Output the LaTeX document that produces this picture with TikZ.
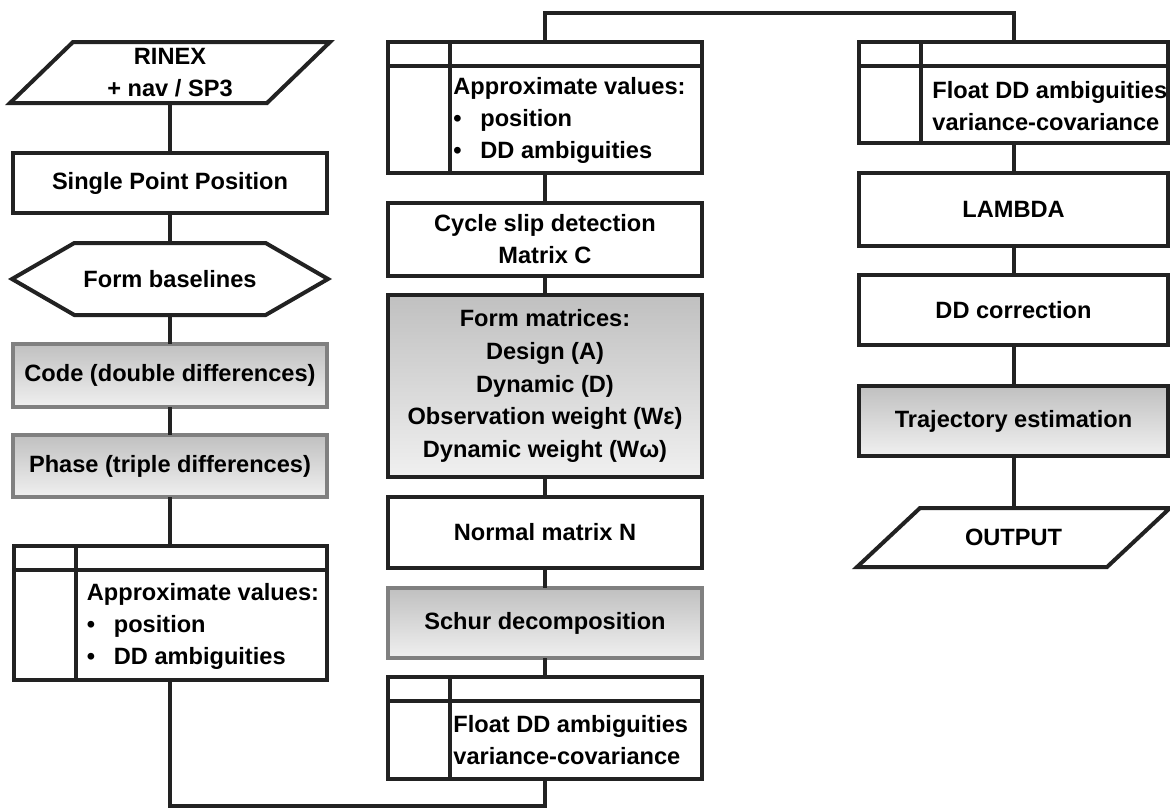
\documentclass[tikz,border=0pt]{standalone}
\usepackage{fontspec}
\setmainfont{Liberation Sans}
\usetikzlibrary{positioning, shapes.symbols}
\definecolor{edgedark}{HTML}{222222}
\definecolor{edgegray}{HTML}{808080}
\definecolor{shadetop}{HTML}{C0C0C0}
\definecolor{shadebot}{HTML}{F0F0F0}

\begin{document}
\begin{tikzpicture}[x=0.5pt, y=-0.5pt,
  box/.style={draw=edgedark, line width=2pt, minimum width=157pt, minimum height=30pt,
    inner sep=2pt, outer sep=0pt, align=center, font=\fontsize{11.8}{16}\selectfont\bfseries},
  shaded/.style={box, top color=shadetop, bottom color=shadebot},
  paleedge/.style={shaded, draw=edgegray},
  io/.style={box, draw=none, append after command={\pgfextra{
    \draw[edgedark, line width=2pt]
      ([xshift=-15.75pt]\tikzlastnode.south west) -- ([xshift=15.75pt]\tikzlastnode.north west)
      -- ([xshift=15.75pt]\tikzlastnode.north east) -- ([xshift=-15.75pt]\tikzlastnode.south east) -- cycle;}}},
  hexbox/.style={box, signal, signal to=west and east, signal pointer angle=60},
  tabbox/.style={box, path picture={
    \draw[edgedark, line width=2pt]
      ([yshift=-12pt]path picture bounding box.north west) -- ([yshift=-12pt]path picture bounding box.north east)
      ([xshift=31pt]path picture bounding box.north west) -- ([xshift=31pt]path picture bounding box.south west);}},
  tabtxt/.style={anchor=west, align=left, inner sep=0pt, font=\fontsize{11.8}{16}\selectfont\bfseries},
  link/.style={draw=edgedark, line width=2pt}
]
\useasboundingbox (0,0) rectangle (1170,810);
\newcommand{\bul}{\makebox[13.5pt][l]{\textbullet}}

% left column
\node[io, minimum width=128.5pt, minimum height=30.5pt] (rinex) at (170,72.5) {RINEX\\+ nav / SP3};
\node[box, below=25pt of rinex] (spp) {Single Point Position};
\node[hexbox, minimum width=158pt, minimum height=36pt, below=15pt of spp] (base) {Form baselines};
\node[paleedge, minimum height=31.5pt, below=14.5pt of base] (code) {Code (double differences)};
\node[paleedge, minimum height=31pt, below=14pt of code] (phase) {Phase (triple differences)};
\node[tabbox, minimum width=156.5pt, minimum height=67pt, below=24.5pt of phase] (apx1) {};
\node[tabtxt] (apx1txt) at ([xshift=36.5pt, yshift=-6.5pt]apx1.west)
  {Approximate values:\\\bul position\\\bul DD ambiguities};

% middle column
\node[tabbox, minimum height=65.5pt] (apx2) at (545,107.5) {};
\node[tabtxt] (apx2txt) at ([xshift=32.5pt, yshift=-6.5pt]apx2.west)
  {Approximate values:\\\bul position\\\bul DD ambiguities};
\node[box, minimum height=36.5pt, below=15pt of apx2] (cyc) {Cycle slip detection\\Matrix C};
\node[shaded, minimum height=91pt, below=9.5pt of cyc, font=\fontsize{11.8}{16.4}\selectfont\bfseries] (form)
  {Form matrices:\\Design (A)\\Dynamic (D)\\Observation weight (Wε)\\Dynamic weight (Wω)};
\node[box, minimum height=35.5pt, below=10pt of form] (norm) {Normal matrix N};
\node[paleedge, minimum height=35pt, below=10pt of norm] (schur) {Schur decomposition};
\node[tabbox, minimum height=51pt, below=9.5pt of schur] (flt1) {};
\node[tabtxt] (flt1txt) at ([xshift=32.5pt, yshift=-6pt]flt1.west)
  {Float DD ambiguities\\variance-covariance};

% right column
\node[tabbox, minimum width=154.5pt, minimum height=50.5pt] (flt2) at (1013.5,92.5) {};
\node[tabtxt] (flt2txt) at ([xshift=36.5pt, yshift=-7pt]flt2.west)
  {Float DD ambiguities\\variance-covariance};
\node[box, minimum width=154.5pt, minimum height=36.5pt, below=15pt of flt2] (lam) {LAMBDA};
\node[box, minimum width=154.5pt, minimum height=35pt, below=14.5pt of lam] (ddc) {DD correction};
\node[shaded, minimum width=154.5pt, minimum height=35pt, below=20.5pt of ddc] (traj) {Trajectory estimation};
\node[io, minimum width=125pt, minimum height=29.5pt, below=26pt of traj] (out) {OUTPUT};

\coordinate (toprun) at (0,13);
\coordinate (botrun) at (0,806);

\draw[link] (rinex.south) -- (spp.north);
\draw[link] (spp.south) -- (base.north);
\draw[link] (base.south) -- (code.north);
\draw[link] (code.south) -- (phase.north);
\draw[link] (phase.south) -- (apx1.north);
\draw[link] (apx1.south) -- (apx1.south |- botrun) -| (flt1.south);
\draw[link] (apx2.south) -- (cyc.north);
\draw[link] (cyc.south) -- (form.north);
\draw[link] (form.south) -- (norm.north);
\draw[link] (norm.south) -- (schur.north);
\draw[link] (schur.south) -- (flt1.north);
\draw[link] (apx2.north) -- (apx2.north |- toprun) -| (flt2.north);
\draw[link] (flt2.south) -- (lam.north);
\draw[link] (lam.south) -- (ddc.north);
\draw[link] (ddc.south) -- (traj.north);
\draw[link] (traj.south) -- (out.north);
\end{tikzpicture}
\end{document}
